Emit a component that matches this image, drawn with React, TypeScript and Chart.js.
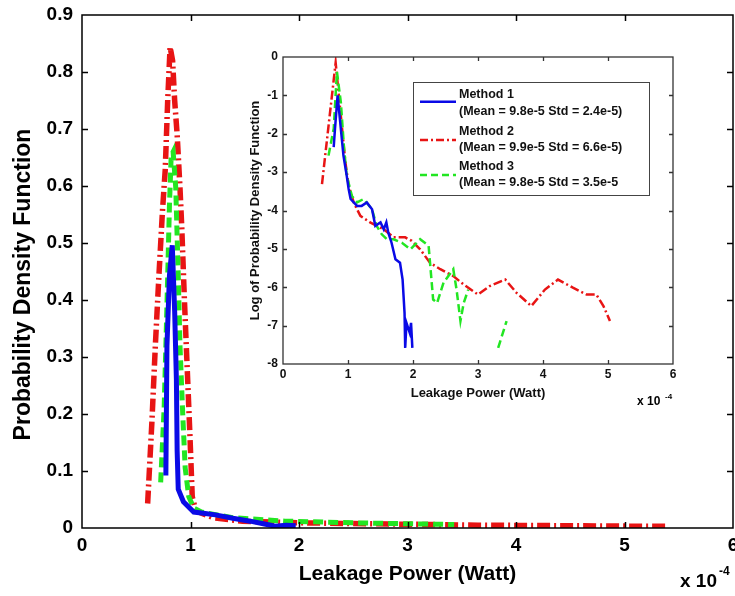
import React, { useEffect, useRef } from "react";
import { Chart, registerables } from "chart.js";

Chart.register(...registerables);

// ---------- data (x in units of 1e-4 W) ----------
const m1PdfX = [0.773, 0.783, 0.806, 0.832, 0.854, 0.87, 0.877, 0.887, 0.935, 1.03, 1.12, 1.23, 1.39, 1.55, 1.66, 1.78, 1.88, 1.97];
const m1PdfY = [0.092, 0.32, 0.443, 0.496, 0.38, 0.26, 0.135, 0.068, 0.046, 0.028, 0.026, 0.023, 0.017, 0.012, 0.008, 0.003, 0.005, 0.004];

const m2PdfX = [0.605, 0.644, 0.676, 0.709, 0.741, 0.767, 0.79, 0.812, 0.835, 0.854, 0.877, 0.903, 0.919, 0.942, 0.961, 0.974, 0.994, 1.016, 1.05, 1.21, 1.48, 2.03, 2.84, 3.65, 4.46, 5.27, 5.41];
const m2PdfY = [0.043, 0.185, 0.32, 0.443, 0.554, 0.628, 0.751, 0.844, 0.82, 0.75, 0.69, 0.597, 0.53, 0.41, 0.32, 0.26, 0.166, 0.055, 0.03, 0.018, 0.012, 0.009, 0.007, 0.005, 0.004, 0.003, 0.003];

const m3PdfX = [0.725, 0.757, 0.773, 0.79, 0.806, 0.822, 0.84, 0.864, 0.887, 0.903, 0.929, 0.951, 0.984, 1.03, 1.1, 1.39, 1.87, 2.52, 3.17, 3.43];
const m3PdfY = [0.08, 0.21, 0.32, 0.443, 0.566, 0.653, 0.66, 0.597, 0.443, 0.32, 0.197, 0.105, 0.055, 0.035, 0.028, 0.018, 0.012, 0.009, 0.007, 0.006];

// inset: log of PDF
const m1LogX = [0.78, 0.8, 0.84, 0.88, 0.93, 0.98, 1.01, 1.04, 1.14, 1.21, 1.29, 1.37, 1.42, 1.5, 1.55, 1.59, 1.62, 1.67, 1.73, 1.8, 1.84, 1.87, 1.88, 1.9, 1.95, 1.97, 1.99];
const m1LogY = [-2.35, -1.87, -1.0, -1.7, -2.57, -3.09, -3.44, -3.7, -3.88, -3.88, -3.79, -3.97, -4.4, -4.31, -4.49, -4.31, -4.58, -4.84, -5.27, -5.36, -5.8, -6.67, -7.58, -6.93, -7.19, -6.93, -7.58];

const m2LogX = [0.6, 0.81, 0.96, 1.01, 1.09, 1.19, 1.34, 1.55, 1.7, 1.88, 1.98, 2.11, 2.26, 2.42, 2.62, 2.78, 3.0, 3.18, 3.42, 3.59, 3.82, 4.03, 4.23, 4.46, 4.67, 4.82, 4.93, 5.03];
const m2LogY = [-3.31, -0.15, -2.75, -3.35, -3.8, -4.14, -4.31, -4.49, -4.7, -4.7, -4.79, -5.01, -5.36, -5.53, -5.71, -5.93, -6.19, -5.97, -5.8, -6.14, -6.49, -6.06, -5.8, -6.01, -6.19, -6.19, -6.49, -6.88];

const m3LogX = [0.7, 0.78, 0.83, 0.89, 0.94, 0.98, 1.06, 1.14, 1.24, 1.37, 1.44, 1.52, 1.6, 1.7, 1.83, 1.96, 2.11, 2.24, 2.31, 2.37, 2.47, 2.62, 2.67, 2.73, 2.78, 2.85, 3.0, 3.31, 3.44];
const m3LogY = [-2.57, -1.87, -0.39, -1.18, -2.4, -3.09, -3.62, -3.79, -3.7, -3.97, -4.4, -4.62, -4.75, -4.75, -4.84, -5.01, -4.75, -4.92, -6.32, -6.41, -5.88, -5.53, -6.06, -6.88, -6.41, -6.06, null, -7.58, -6.88];

const xTickValues = [0, 1, 2, 3, 4, 5, 6];
const mainYTickValues = [0, 0.1, 0.2, 0.3, 0.4, 0.5, 0.6, 0.7, 0.8, 0.9];
const insetYTickValues = [-8, -7, -6, -5, -4, -3, -2, -1, 0];

const methodNames = ["Method 1", "Method 2", "Method 3"];
const methodStats = ["(Mean = 9.8e-5 Std = 2.4e-5)", "(Mean = 9.9e-5 Std = 6.6e-5)", "(Mean = 9.8e-5 Std = 3.5e-5"];

const mainTitleX = "Leakage Power (Watt)";
const mainTitleY = "Probability Density Function";
const insetTitleY = "Log of Probability Density Function";

// ---------- styling ----------
const FONT = "'Liberation Sans', Arial, Helvetica, sans-serif";
const BLUE = "#0a0ae6";
const RED = "#e81414";
const GREEN = "#22e622";

const pts = (xs: number[], ys: (number | null)[]) => xs.map((x, i) => ({ x, y: ys[i] }));

function boxPlugin(tickLen: number, color: string, lw: number, xt: number[], yt: number[], id: string) {
  return {
    id,
    afterDatasetsDraw(chart: any) {
      const { ctx, chartArea: a, scales } = chart;
      ctx.save();
      ctx.strokeStyle = color;
      ctx.lineWidth = lw;
      ctx.beginPath();
      xt.forEach((v) => {
        const px = Math.round(scales.x.getPixelForValue(v)) + 0.5;
        ctx.moveTo(px, a.bottom);
        ctx.lineTo(px, a.bottom - tickLen);
        ctx.moveTo(px, a.top);
        ctx.lineTo(px, a.top + tickLen);
      });
      yt.forEach((v) => {
        const py = Math.round(scales.y.getPixelForValue(v)) + 0.5;
        ctx.moveTo(a.left, py);
        ctx.lineTo(a.left + tickLen, py);
        ctx.moveTo(a.right, py);
        ctx.lineTo(a.right - tickLen, py);
      });
      ctx.stroke();
      ctx.strokeRect(a.left, a.top, a.right - a.left, a.bottom - a.top);
      ctx.restore();
    },
  };
}

function exponentPlugin(id: string, dx: number, dy: number, size: number, sdx: number, sdy: number, ssize: number) {
  return {
    id,
    afterDraw(chart: any) {
      const { ctx, chartArea: a } = chart;
      ctx.save();
      ctx.fillStyle = "#000";
      ctx.textBaseline = "middle";
      ctx.textAlign = "left";
      ctx.font = `bold ${size}px ${FONT}`;
      ctx.fillText("x 10", a.right + dx, a.bottom + dy);
      ctx.font = `bold ${ssize}px ${FONT}`;
      ctx.fillText("-4", a.right + sdx, a.bottom + sdy);
      ctx.restore();
    },
  };
}

// main y-axis title, placed like the original (slightly below the axis centre)
const mainYTitlePlugin = {
  id: "mainYTitle",
  afterDraw(chart: any) {
    const { ctx, chartArea: a } = chart;
    ctx.save();
    ctx.translate(a.left - 58, (a.top + a.bottom) / 2 + 13);
    ctx.rotate(-Math.PI / 2);
    ctx.fillStyle = "#000";
    ctx.font = `bold 23px ${FONT}`;
    ctx.textAlign = "center";
    ctx.textBaseline = "middle";
    ctx.fillText(mainTitleY, 0, 0);
    ctx.restore();
  },
};

const insetLegendPlugin = {
  id: "insetLegend",
  afterDraw(chart: any) {
    const { ctx, chartArea: a } = chart;
    const bx = a.left + 130, by = a.top + 25, bw = 236, bh = 113;
    ctx.save();
    ctx.fillStyle = "#fff";
    ctx.fillRect(bx, by, bw, bh);
    ctx.strokeStyle = "#444";
    ctx.lineWidth = 1;
    ctx.strokeRect(bx + 0.5, by + 0.5, bw, bh);
    const colors = [BLUE, RED, GREEN];
    const dashes = [[], [8, 3, 2, 3], [7, 4]];
    const lineY = [44.7, 83, 118];
    const nameY = [38, 74.7, 109.7];
    const statY = [54.7, 91, 126];
    for (let i = 0; i < 3; i++) {
      ctx.strokeStyle = colors[i];
      ctx.lineWidth = 2.5;
      ctx.setLineDash(dashes[i]);
      ctx.beginPath();
      ctx.moveTo(a.left + 137, a.top + lineY[i]);
      ctx.lineTo(a.left + 173, a.top + lineY[i]);
      ctx.stroke();
      ctx.setLineDash([]);
      ctx.fillStyle = "#111";
      ctx.font = `bold 12.5px ${FONT}`;
      ctx.textAlign = "left";
      ctx.textBaseline = "middle";
      ctx.fillText(methodNames[i], a.left + 176, a.top + nameY[i]);
      ctx.fillText(methodStats[i], a.left + 176, a.top + statY[i]);
    }
    ctx.restore();
  },
};

const whiteAreaPlugin = {
  id: "whiteArea",
  beforeDatasetsDraw(chart: any) {
    const { ctx, chartArea: a } = chart;
    ctx.save();
    ctx.fillStyle = "#fff";
    ctx.fillRect(a.left, a.top, a.right - a.left, a.bottom - a.top);
    ctx.restore();
  },
};

const noGrid = { display: false, drawTicks: false, tickLength: 0 };

export default function App() {
  const mainRef = useRef<HTMLCanvasElement | null>(null);
  const insetRef = useRef<HTMLCanvasElement | null>(null);

  useEffect(() => {
    if (!mainRef.current || !insetRef.current) return;

    const mainChart = new Chart(mainRef.current, {
      type: "line",
      data: {
        datasets: [
          { label: methodNames[0], data: pts(m1PdfX, m1PdfY), borderColor: BLUE, borderWidth: 5, pointRadius: 0, fill: false, tension: 0 },
          { label: methodNames[2], data: pts(m3PdfX, m3PdfY), borderColor: GREEN, borderWidth: 5, borderDash: [10, 5], pointRadius: 0, fill: false, tension: 0 },
          { label: methodNames[1], data: pts(m2PdfX, m2PdfY), borderColor: RED, borderWidth: 5.5, borderDash: [13, 4, 2, 4], pointRadius: 0, fill: false, tension: 0 },
        ],
      },
      options: {
        animation: false,
        responsive: false,
        devicePixelRatio: 1,
        layout: { padding: { left: 4, right: 2, top: 15, bottom: 0 } },
        plugins: { legend: { display: false }, tooltip: { enabled: false } },
        scales: {
          x: {
            type: "linear",
            min: 0,
            max: 6,
            grid: noGrid,
            border: { display: false },
            afterBuildTicks: (s: any) => { s.ticks = xTickValues.map((v) => ({ value: v })); },
            ticks: { autoSkip: false, maxRotation: 0, padding: 6.6, color: "#000", font: { family: FONT, size: 19, weight: "bold" } },
            title: { display: true, text: mainTitleX, color: "#000", font: { family: FONT, size: 21, weight: "bold" }, padding: { top: 0, bottom: 9.4 } },
            afterFit: (s: any) => { s.height = 68; s.paddingLeft = 0; s.paddingRight = 0; },
          },
          y: {
            type: "linear",
            min: 0,
            max: 0.9,
            grid: noGrid,
            border: { display: false },
            afterBuildTicks: (s: any) => { s.ticks = mainYTickValues.map((v) => ({ value: v })); },
            ticks: {
              autoSkip: false,
              padding: 9,
              color: "#000",
              font: { family: FONT, size: 19, weight: "bold" },
              callback: (v: any) => String(Math.round(Number(v) * 10) / 10),
            },
            afterFit: (s: any) => { s.width = 78; s.paddingTop = 0; s.paddingBottom = 0; },
          },
        },
      } as any,
      plugins: [
        boxPlugin(6, "#000", 1.5, [1, 2, 3, 4, 5], [0.1, 0.2, 0.3, 0.4, 0.5, 0.6, 0.7, 0.8], "mainBox"),
        exponentPlugin("mainExp", -53, 54, 19, -14, 44, 12),
        mainYTitlePlugin,
      ],
    });

    const insetChart = new Chart(insetRef.current, {
      type: "line",
      data: {
        datasets: [
          { label: methodNames[0], data: pts(m1LogX, m1LogY), borderColor: BLUE, borderWidth: 2.5, pointRadius: 0, fill: false, tension: 0 },
          { label: methodNames[2], data: pts(m3LogX, m3LogY), borderColor: GREEN, borderWidth: 2.5, borderDash: [8, 4], pointRadius: 0, fill: false, tension: 0, spanGaps: false },
          { label: methodNames[1], data: pts(m2LogX, m2LogY), borderColor: RED, borderWidth: 2.5, borderDash: [9, 3, 2, 3], pointRadius: 0, fill: false, tension: 0 },
        ],
      },
      options: {
        animation: false,
        responsive: false,
        devicePixelRatio: 1,
        layout: { padding: { left: 8, right: 17, top: 17, bottom: 0 } },
        plugins: { legend: { display: false }, tooltip: { enabled: false } },
        scales: {
          x: {
            type: "linear",
            min: 0,
            max: 6,
            grid: noGrid,
            border: { display: false },
            afterBuildTicks: (s: any) => { s.ticks = xTickValues.map((v) => ({ value: v })); },
            ticks: { autoSkip: false, maxRotation: 0, padding: 3.8, color: "#111", font: { family: FONT, size: 12, weight: "bold" } },
            title: { display: true, text: mainTitleX, color: "#111", font: { family: FONT, size: 13, weight: "bold" }, padding: { top: 0, bottom: 14.2 } },
            afterFit: (s: any) => { s.height = 51; s.paddingLeft = 0; s.paddingRight = 0; },
          },
          y: {
            type: "linear",
            min: -8,
            max: 0,
            grid: noGrid,
            border: { display: false },
            afterBuildTicks: (s: any) => { s.ticks = insetYTickValues.map((v) => ({ value: v })); },
            ticks: { autoSkip: false, padding: 5, color: "#111", font: { family: FONT, size: 12, weight: "bold" } },
            title: { display: true, text: insetTitleY, color: "#111", font: { family: FONT, size: 13, weight: "bold" }, padding: { top: 9.2, bottom: 0 } },
            afterFit: (s: any) => { s.width = 45; s.paddingTop = 0; s.paddingBottom = 0; },
          },
        },
      } as any,
      plugins: [
        whiteAreaPlugin,
        boxPlugin(4, "#333", 1.3, [1, 2, 3, 4, 5], [-7, -6, -5, -4, -3, -2, -1], "insetBox"),
        insetLegendPlugin,
        exponentPlugin("insetExp", -36, 38, 12, -8, 33, 8),
      ],
    });

    return () => {
      mainChart.destroy();
      insetChart.destroy();
    };
  }, []);

  return (
    <div style={{ position: "absolute", left: 0, top: 0, width: 735, height: 596, background: "#fff", overflow: "hidden" }}>
      <canvas ref={mainRef} width={735} height={596} style={{ position: "absolute", left: 0, top: 0, width: 735, height: 596 }} />
      <canvas ref={insetRef} width={460} height={375} style={{ position: "absolute", left: 230, top: 40, width: 460, height: 375 }} />
    </div>
  );
}
